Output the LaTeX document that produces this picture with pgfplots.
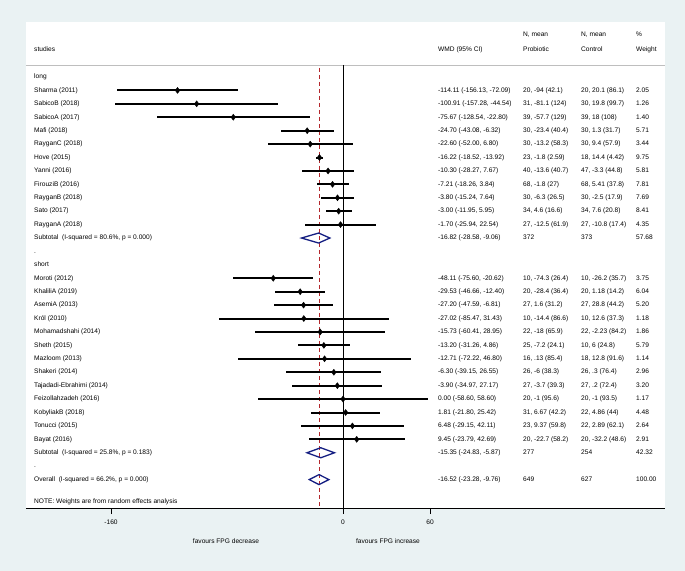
\documentclass[border=0pt]{standalone}
\usepackage{fontspec}
\setmainfont{Liberation Sans}
\usepackage{pgfplots}
\usepackage{pgfplotstable}
\pgfplotsset{compat=1.18}
\definecolor{bgc}{RGB}{234,242,243}
\definecolor{dnavy}{RGB}{20,30,130}
\definecolor{dred}{RGB}{180,40,45}
\definecolor{sepgray}{RGB}{190,190,190}
\newcommand{\fs}{\fontsize{6.6bp}{8bp}\selectfont}

\pgfplotstableread{
y est lo hi
-1 -114.11 -156.13 -72.09
-2 -100.91 -157.28 -44.54
-3 -75.67 -128.54 -22.80
-4 -24.70 -43.08 -6.32
-5 -22.60 -52.00 6.80
-6 -16.22 -18.52 -13.92
-7 -10.30 -28.27 7.67
-8 -7.21 -18.26 3.84
-9 -3.80 -15.24 7.64
-10 -3.00 -11.95 5.95
-11 -1.70 -25.94 22.54
}\longtab
\pgfplotstableread{
y est lo hi
-15 -48.11 -75.60 -20.62
-16 -29.53 -46.66 -12.40
-17 -27.20 -47.59 -6.81
-18 -27.02 -85.47 31.43
-19 -15.73 -60.41 28.95
-20 -13.20 -31.26 4.86
-21 -12.71 -72.22 46.80
-22 -6.30 -39.15 26.55
-23 -3.90 -34.97 27.17
-24 0.00 -58.60 58.60
-25 1.81 -21.80 25.42
-26 6.48 -29.15 42.11
-27 9.45 -23.79 42.69
}\shorttab

\newcommand{\trow}[6]{%
 \node[lbl] at (axis cs:-213.1,#1) {#2};
 \node[lbl] at (axis cs:65.52,#1) {#3};
 \node[lbl] at (axis cs:124.14,#1) {#4};
 \node[lbl] at (axis cs:164.14,#1) {#5};
 \node[lbl] at (axis cs:202.07,#1) {#6};}

\begin{document}
\begin{tikzpicture}[lbl/.style={anchor=west, inner sep=0pt, text height=4.8bp, text depth=1.3bp, font=\fs}]
\fill[bgc] (-26bp,-63bp) rectangle (659bp,508bp);
\begin{axis}[
  at={(0,0)}, anchor=south west,
  scale only axis, width=639bp, height=486bp,
  xmin=-218.62, xmax=222.07, ymin=-32.116, ymax=4.098,
  axis x line*=bottom, axis y line=none,
  x axis line style={-, black, line width=0.8bp},
  xtick={-160,0,60}, xticklabels={}, ytick=\empty,
  tick align=outside, major tick length=6bp,
  xtick style={black, line width=0.8bp},
  axis background/.style={fill=white},
  clip=false,
]
% header
\node[lbl] at (axis cs:-213.1,2.01) {studies};
\node[lbl] at (axis cs:65.52,2.01) {WMD (95\% CI)};
\node[lbl] at (axis cs:124.14,3.13) {N, mean};
\node[lbl] at (axis cs:124.14,2.01) {Probiotic};
\node[lbl] at (axis cs:164.14,3.13) {N, mean};
\node[lbl] at (axis cs:164.14,2.01) {Control};
\node[lbl] at (axis cs:202.07,3.13) {\%};
\node[lbl] at (axis cs:202.07,2.01) {Weight};
\draw[sepgray, line width=0.6bp] (axis cs:-218.62,0.894) -- (axis cs:222.07,0.894);

% reference lines
\addplot[black, line width=0.8bp] coordinates {(0,0.894) (0,-32.116)};
\addplot[dred, line width=0.8bp, dash pattern=on 4bp off 3bp] coordinates {(-16.52,0.67) (-16.52,-32.116)};

% studies
\addplot[black, only marks, mark=diamond*, mark size=3bp,
  error bars/.cd, x dir=both, x explicit, error mark=none,
  error bar style={line width=2bp, black}]
  table[x=est, y=y, x error plus expr={\thisrow{hi}-\thisrow{est}}, x error minus expr={\thisrow{est}-\thisrow{lo}}] {\longtab};
\addplot[black, only marks, mark=diamond*, mark size=3bp,
  error bars/.cd, x dir=both, x explicit, error mark=none,
  error bar style={line width=2bp, black}]
  table[x=est, y=y, x error plus expr={\thisrow{hi}-\thisrow{est}}, x error minus expr={\thisrow{est}-\thisrow{lo}}] {\shorttab};

% pooled diamonds
\addplot[dnavy, line width=1.3bp, line join=miter] coordinates {(-28.58,-12) (-16.82,-11.627) (-9.06,-12) (-16.82,-12.373)} -- cycle;
\addplot[dnavy, line width=1.3bp, line join=miter] coordinates {(-24.83,-28) (-15.35,-27.627) (-5.87,-28) (-15.35,-28.373)} -- cycle;
\addplot[dnavy, line width=1.3bp, line join=miter] coordinates {(-23.28,-30) (-16.52,-29.627) (-9.76,-30) (-16.52,-30.373)} -- cycle;

% rows
\node[lbl] at (axis cs:-213.1,0) {long};
\trow{-1}{Sharma (2011)}{-114.11 (-156.13, -72.09)}{20, -94 (42.1)}{20, 20.1 (86.1)}{2.05}
\trow{-2}{SabicoB (2018)}{-100.91 (-157.28, -44.54)}{31, -81.1 (124)}{30, 19.8 (99.7)}{1.26}
\trow{-3}{SabicoA (2017)}{-75.67 (-128.54, -22.80)}{39, -57.7 (129)}{39, 18 (108)}{1.40}
\trow{-4}{Mafi (2018)}{-24.70 (-43.08, -6.32)}{30, -23.4 (40.4)}{30, 1.3 (31.7)}{5.71}
\trow{-5}{RayganC (2018)}{-22.60 (-52.00, 6.80)}{30, -13.2 (58.3)}{30, 9.4 (57.9)}{3.44}
\trow{-6}{Hove (2015)}{-16.22 (-18.52, -13.92)}{23, -1.8 (2.59)}{18, 14.4 (4.42)}{9.75}
\trow{-7}{Yanni (2016)}{-10.30 (-28.27, 7.67)}{40, -13.6 (40.7)}{47, -3.3 (44.8)}{5.81}
\trow{-8}{FirouziB (2016)}{-7.21 (-18.26, 3.84)}{68, -1.8 (27)}{68, 5.41 (37.8)}{7.81}
\trow{-9}{RayganB (2018)}{-3.80 (-15.24, 7.64)}{30, -6.3 (26.5)}{30, -2.5 (17.9)}{7.69}
\trow{-10}{Sato (2017)}{-3.00 (-11.95, 5.95)}{34, 4.6 (16.6)}{34, 7.6 (20.8)}{8.41}
\trow{-11}{RayganA (2018)}{-1.70 (-25.94, 22.54)}{27, -12.5 (61.9)}{27, -10.8 (17.4)}{4.35}
\trow{-12}{Subtotal\ \ (I-squared = 80.6\%, p = 0.000)}{-16.82 (-28.58, -9.06)}{372}{373}{57.68}
\node[lbl] at (axis cs:-213.1,-13) {.};
\node[lbl] at (axis cs:-213.1,-14) {short};
\trow{-15}{Moroti (2012)}{-48.11 (-75.60, -20.62)}{10, -74.3 (26.4)}{10, -26.2 (35.7)}{3.75}
\trow{-16}{KhaliliA (2019)}{-29.53 (-46.66, -12.40)}{20, -28.4 (36.4)}{20, 1.18 (14.2)}{6.04}
\trow{-17}{AsemiA (2013)}{-27.20 (-47.59, -6.81)}{27, 1.6 (31.2)}{27, 28.8 (44.2)}{5.20}
\trow{-18}{Król (2010)}{-27.02 (-85.47, 31.43)}{10, -14.4 (86.6)}{10, 12.6 (37.3)}{1.18}
\trow{-19}{Mohamadshahi (2014)}{-15.73 (-60.41, 28.95)}{22, -18 (65.9)}{22, -2.23 (84.2)}{1.86}
\trow{-20}{Sheth (2015)}{-13.20 (-31.26, 4.86)}{25, -7.2 (24.1)}{10, 6 (24.8)}{5.79}
\trow{-21}{Mazloom (2013)}{-12.71 (-72.22, 46.80)}{16, .13 (85.4)}{18, 12.8 (91.6)}{1.14}
\trow{-22}{Shakeri (2014)}{-6.30 (-39.15, 26.55)}{26, -6 (38.3)}{26, .3 (76.4)}{2.96}
\trow{-23}{Tajadadi-Ebrahimi (2014)}{-3.90 (-34.97, 27.17)}{27, -3.7 (39.3)}{27, .2 (72.4)}{3.20}
\trow{-24}{Feizollahzadeh (2016)}{0.00 (-58.60, 58.60)}{20, -1 (95.6)}{20, -1 (93.5)}{1.17}
\trow{-25}{KobyliakB (2018)}{1.81 (-21.80, 25.42)}{31, 6.67 (42.2)}{22, 4.86 (44)}{4.48}
\trow{-26}{Tonucci (2015)}{6.48 (-29.15, 42.11)}{23, 9.37 (59.8)}{22, 2.89 (62.1)}{2.64}
\trow{-27}{Bayat (2016)}{9.45 (-23.79, 42.69)}{20, -22.7 (58.2)}{20, -32.2 (48.6)}{2.91}
\trow{-28}{Subtotal\ \ (I-squared = 25.8\%, p = 0.183)}{-15.35 (-24.83, -5.87)}{277}{254}{42.32}
\node[lbl] at (axis cs:-213.1,-29) {.};
\trow{-30}{Overall\ \ (I-squared = 66.2\%, p = 0.000)}{-16.52 (-23.28, -9.76)}{649}{627}{100.00}
\node[lbl] at (axis cs:-213.1,-31.67) {NOTE: Weights are from random effects analysis};

% tick labels and favours labels
\node[lbl, anchor=center] at (axis cs:-160,-33.23) {-160};
\node[lbl, anchor=center] at (axis cs:0,-33.23) {0};
\node[lbl, anchor=center] at (axis cs:60,-33.23) {60};
\node[lbl, anchor=center] at (axis cs:-80.7,-34.65) {favours FPG decrease};
\node[lbl, anchor=center] at (axis cs:31.0,-34.65) {favours FPG increase};
\end{axis}
\end{tikzpicture}
\end{document}
